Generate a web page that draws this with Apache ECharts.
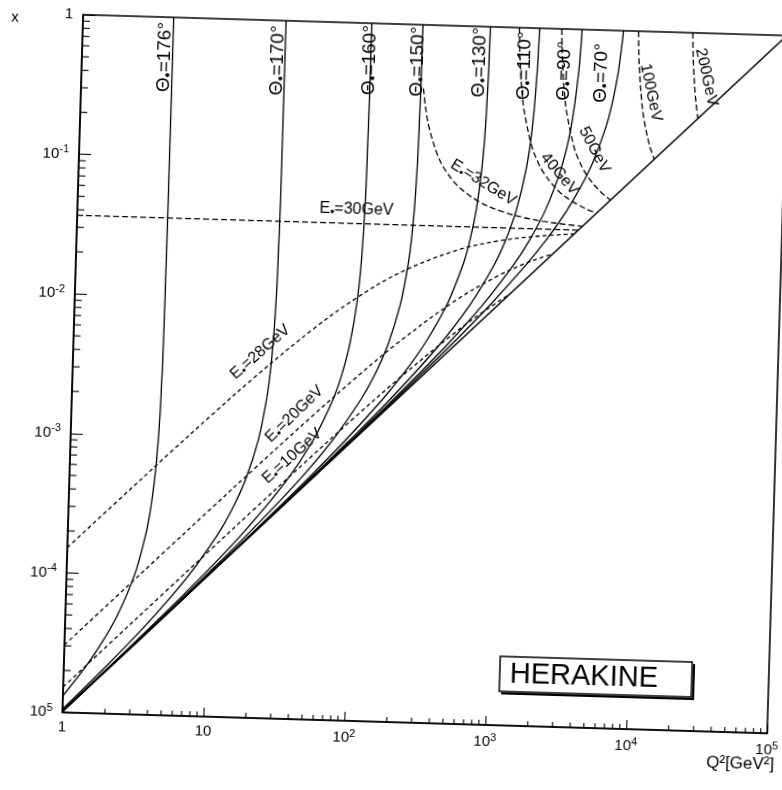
<!DOCTYPE html>
<html><head><meta charset="utf-8">
<script src="https://cdn.jsdelivr.net/npm/echarts/dist/echarts.min.js"></script>
<style>
html,body{margin:0;padding:0;background:#fff;overflow:hidden;width:782px;height:790px;}
#c{position:absolute;left:-10px;top:-10px;width:802px;height:810px;transform:rotate(1.7deg);transform-origin:50% 50%;background:#fff;}
</style></head><body><div id="c"></div>
<script>
// ---- data: [Q2, x] pairs ----
const kinematicLimit = [[1, 1.0163e-5], [98400, 1]];
const theta176 = [[1,1.316e-5],[1.359,2e-5],[1.765,3e-5],[2.32,5e-5],[3.036,1e-4],[3.589,2e-4],[3.822,3e-4],[4.03,5e-4],[4.203,1e-3],[4.294,2e-3],[4.351,5e-3],[4.37,0.01],[4.386,0.05],[4.39,1]];
const theta170 = [[1,1.0545e-5],[1.837,2e-5],[2.666,3e-5],[4.175,5e-5],[7.251,1e-4],[11.48,2e-4],[14.25,3e-4],[17.66,5e-4],[21.53,1e-3],[24.17,2e-3],[25.21,3e-3],[26.1,5e-3],[26.81,0.01],[27.18,0.02],[27.41,0.05],[27.48,0.1],[27.55,1]];
const theta160 = [[1,1.0254e-5],[1.934,2e-5],[4.713,5e-5],[9.045,1e-4],[16.74,2e-4],[34.17,5e-4],[52.36,1e-3],[71.34,2e-3],[81.14,3e-3],[91.16,5e-3],[100.47,0.01],[105.88,0.02],[109.41,0.05],[110.64,0.1],[111.48,0.3],[111.77,1]];
const theta150 = [[1,1.0202e-5],[1.953,2e-5],[4.828,5e-5],[9.479,1e-4],[18.29,2e-4],[41.33,5e-4],[71.27,1e-3],[111.73,2e-3],[137.82,3e-3],[169.46,5e-3],[204.72,0.01],[228.49,0.02],[237.69,0.03],[245.6,0.05],[251.88,0.1],[256.25,0.3],[257.82,1]];
const theta130 = [[1,1.0176e-5],[1.963,2e-5],[4.889,5e-5],[9.718,1e-4],[19.2,2e-4],[46.29,5e-4],[87.41,1e-3],[157.26,2e-3],[214.36,3e-3],[302.11,5e-3],[435.97,0.01],[560.04,0.02],[618.73,0.03],[675.34,0.05],[725.12,0.1],[752.85,0.2],[770.54,0.5],[776.6,1]];
const theta110 = [[1,1.0168e-5],[1.966,2e-5],[4.906,5e-5],[9.785,1e-4],[19.46,2e-4],[47.87,5e-4],[93.2,1e-3],[177.06,2e-3],[384.75,5e-3],[631.79,0.01],[930.5,0.02],[1104.6,0.03],[1299,0.05],[1496.5,0.1],[1619.7,0.2],[1703.9,0.5],[1733.9,1]];
const theta90 = [[1,1.0165e-5],[1.967,2e-5],[4.913,5e-5],[9.813,1e-4],[19.57,2e-4],[48.54,5e-4],[95.78,1e-3],[186.6,2e-3],[432.8,5e-3],[772.8,0.01],[1272.4,0.02],[1622,0.03],[2078.9,0.05],[2635.7,0.1],[3043.3,0.2],[3354.5,0.5],[3472.9,1]];
const theta70 = [[1,1.0164e-5],[9.827,1e-4],[19.63,2e-4],[48.87,5e-4],[97.1,1e-3],[191.66,2e-3],[461.1,5e-3],[867.7,0.01],[1552,0.02],[2105.5,0.03],[2945.9,0.05],[4204.9,0.1],[5347.5,0.2],[5880.1,0.3],[6389.1,0.5],[6832.7,1]];
const energy10 = [[1,1.5237e-5],[2,3.046e-5],[5,7.606e-5],[10,1.518e-4],[20,3.024e-4],[50,7.466e-4],[100,1.4634e-3],[200,2.814e-3],[500,6.308e-3],[800,9.146e-3],[1200,0.012195]];
const energy20 = [[1,3.0463e-5],[2,6.087e-5],[5,1.5181e-4],[10,3.0236e-4],[20,5.998e-4],[50,1.4634e-3],[100,2.8143e-3],[200,5.2264e-3],[500,0.010761],[1000,0.01663],[1500,0.020325],[2000,0.022866],[2400,0.02439]];
const energy28 = [[1,1.5181e-4],[2,3.0236e-4],[5,7.466e-4],[10,1.4634e-3],[20,2.8143e-3],[50,6.308e-3],[100,0.010761],[200,0.01663],[500,0.02472],[1000,0.029505],[2000,0.032666],[3360,0.034146]];
const energy30 = [[1,0.036585],[3600,0.036585]];
const energy32 = [[268,0.3502],[280,0.2561],[300,0.1829],[350,0.1164],[400,0.09146],[500,0.07036],[700,0.05567],[1000,0.04814],[1500,0.04355],[2000,0.04157],[3000,0.03977],[3840,0.039024]];
const energy40 = [[1245.6,1],[1260,0.7683],[1300,0.4756],[1350,0.3293],[1400,0.2561],[1600,0.14634],[1800,0.10976],[2000,0.09146],[2500,0.07036],[3000,0.06098],[4000,0.05226],[4800,0.04878]];
const energy50 = [[2491,1],[2520,0.7683],[2600,0.4756],[2700,0.3293],[2800,0.2561],[3200,0.14634],[3500,0.1164],[4000,0.09146],[5000,0.07036],[6000,0.060976]];
const energy100 = [[8719,1],[8800,0.8049],[9000,0.5488],[9500,0.316],[10000,0.2287],[11000,0.15478],[12000,0.12195]];
const energy200 = [[21175,1],[21500,0.7151],[22000,0.503],[23000,0.3236],[24000,0.2439]];
// axis ranges / tick labels
const xMin = 1, xMax = 1e5, yMin = 1e-5, yMax = 1;
const yTickLabels = {'0':'1','-1':'10{s|-1}','-2':'10{s|-2}','-3':'10{s|-3}','-4':'10{s|-4}','-5':'10{s|5}'};
const xTickLabels = {'0':'1','1':'10','2':'10{s|2}','3':'10{s|3}','4':'10{s|4}','5':'10{s|5}'};
const minorMultipliers = [2,3,4,5,6,7,8,9];

// ---- build ----
const F = "'Liberation Sans', Arial, Helvetica, sans-serif";
const xMinor = [], yMinor = [];
for (let e = 0; e < 5; e++) minorMultipliers.forEach(m => xMinor.push(m * Math.pow(10, e)));
for (let e = -5; e < 0; e++) minorMultipliers.forEach(m => yMinor.push(m * Math.pow(10, e)));

function solid(data){ return {type:'line', data, symbol:'none', smooth:0.35, silent:true, animation:false, lineStyle:{color:'#000', width:1.3}}; }
function dashed(data, d){ return {type:'line', data, symbol:'none', smooth:0.35, silent:true, animation:false, lineStyle:{color:'#000', width:1.3, type:d}}; }

const fine = [4,3], coarse = [6,3];
const series = [
  {type:'line', data:kinematicLimit, symbol:'none', silent:true, lineStyle:{color:'#000', width:1.5}},
  solid(theta176), solid(theta170), solid(theta160), solid(theta150),
  solid(theta130), solid(theta110), solid(theta90), solid(theta70),
  dashed(energy10, fine), dashed(energy20, fine), dashed(energy28, fine),
  dashed(energy30, coarse), dashed(energy32, coarse), dashed(energy40, coarse),
  dashed(energy50, coarse), dashed(energy100, coarse), dashed(energy200, coarse),
  {type:'custom', coordinateSystem:'cartesian2d', silent:true, clip:false,
   data: xMinor.map(v => [v, yMin]),
   renderItem:(p, api) => { const pt = api.coord([api.value(0), api.value(1)]);
     return {type:'line', shape:{x1:pt[0], y1:pt[1], x2:pt[0], y2:pt[1]-5}, style:{stroke:'#000', lineWidth:1.1}}; }},
  {type:'custom', coordinateSystem:'cartesian2d', silent:true, clip:false,
   data: yMinor.map(v => [xMin, v]),
   renderItem:(p, api) => { const pt = api.coord([api.value(0), api.value(1)]);
     return {type:'line', shape:{x1:pt[0], y1:pt[1], x2:pt[0]+7, y2:pt[1]}, style:{stroke:'#000', lineWidth:1.1}}; }}
];

const rich = {a:{fontSize:19, fontFamily:F, fill:'#000'}, d:{fontSize:14, fontFamily:F, fill:'#000', padding:[8,0,0,0]}};
const richE = {a:{fontSize:16, fontFamily:F, fill:'#000'}, d:{fontSize:12, fontFamily:F, fill:'#000', padding:[7,0,0,0]}};
function lbl(text, x, y, deg, r){
  return {type:'text', x, y, rotation: deg*Math.PI/180, silent:true, z:10,
    style:{text, rich:r, fontSize:16, fontFamily:F, fill:'#000', align:'center', verticalAlign:'middle', textAlign:'center', textVerticalAlign:'middle'}};
}
const graphic = [
  lbl('{a|Θ}{d|•}{a|=176°}', 165, 74, 90, rich),
  lbl('{a|Θ}{d|•}{a|=170°}', 278, 74, 90, rich),
  lbl('{a|Θ}{d|•}{a|=160°}', 370, 71, 90, rich),
  lbl('{a|Θ}{d|•}{a|=150°}', 418, 71, 90, rich),
  lbl('{a|Θ}{d|•}{a|=130°}', 480, 70, 90, rich),
  lbl('{a|Θ}{d|•}{a|=110°}', 525, 72, 90, rich),
  lbl('{a|Θ}{d|•}{a|=90°}', 565, 76, 90, rich),
  lbl('{a|Θ}{d|•}{a|=70°}', 602, 77, 90, rich),
  lbl('{a|100GeV}', 652, 95, -76.4, richE),
  lbl('{a|200GeV}', 707, 78, -76, richE),
  lbl('{a|50GeV}', 597, 154, -60.6, richE),
  lbl('{a|40GeV}', 563, 179, -47.7, richE),
  lbl('{a|E}{d|•}{a|=32GeV}', 487, 190, -30.2, richE),
  lbl('{a|E}{d|•}{a|=30GeV}', 361, 221, 0, richE),
  lbl('{a|E}{d|•}{a|=28GeV}', 269, 366, 43.2, richE),
  lbl('{a|E}{d|•}{a|=20GeV}', 305, 427, 45.7, richE),
  lbl('{a|E}{d|•}{a|=10GeV}', 304, 469, 43.6, richE),
  {type:'polyline', silent:true, z:9, shape:{points:[[712,665],[712,700],[520,700]]}, style:{stroke:'#000', lineWidth:2, fill:null}},
  {type:'rect', silent:true, z:10, shape:{x:518, y:663, width:192, height:35}, style:{stroke:'#000', lineWidth:1.5, fill:'#fff'}},
  {type:'text', silent:true, z:11, x:528, y:681, style:{text:'HERAKINE', fontSize:29, fontFamily:F, fill:'#000', align:'left', verticalAlign:'middle', textAlign:'left', textVerticalAlign:'middle'}},
  {type:'text', silent:true, z:11, x:14, y:39, style:{text:'x', fontSize:15, fontFamily:F, fill:'#000', align:'center', verticalAlign:'middle', textAlign:'center', textVerticalAlign:'middle'}},
  {type:'text', silent:true, z:11, x:761, y:763, style:{text:'Q²[GeV²]', fontSize:17, fontFamily:F, fill:'#000', align:'center', verticalAlign:'middle', textAlign:'center', textVerticalAlign:'middle'}}
];

const supRich = {s:{fontSize:11, fontFamily:F, fill:'#000', padding:[0,0,9,0]}};
const option = {
  animation:false,
  backgroundColor:'#fff',
  grid:{left:82, top:34, right:15, bottom:78, show:true, borderColor:'#000', borderWidth:1.6, backgroundColor:'transparent'},
  xAxis:{type:'log', logBase:10, min:xMin, max:xMax, splitNumber:5,
    axisLine:{show:true, lineStyle:{color:'#000', width:1.6}},
    axisTick:{show:true, inside:true, length:9, lineStyle:{color:'#000', width:1.1}},
    splitLine:{show:false}, minorTick:{show:false},
    axisLabel:{color:'#000', fontSize:15, fontFamily:F, margin:7, showMinLabel:true, showMaxLabel:true,
      formatter:v => xTickLabels[String(Math.round(Math.log10(v)))] || '', rich:supRich}},
  yAxis:{type:'log', logBase:10, min:yMin, max:yMax, splitNumber:5,
    axisLine:{show:true, lineStyle:{color:'#000', width:1.6}},
    axisTick:{show:true, inside:true, length:12, lineStyle:{color:'#000', width:1.1}},
    splitLine:{show:false}, minorTick:{show:false},
    axisLabel:{color:'#000', fontSize:15, fontFamily:F, margin:10, showMinLabel:true, showMaxLabel:true,
      formatter:v => yTickLabels[String(Math.round(Math.log10(v)))] || '', rich:supRich}},
  series, graphic
};
const chart = echarts.init(document.getElementById('c'));
chart.setOption(option);
</script></body></html>
